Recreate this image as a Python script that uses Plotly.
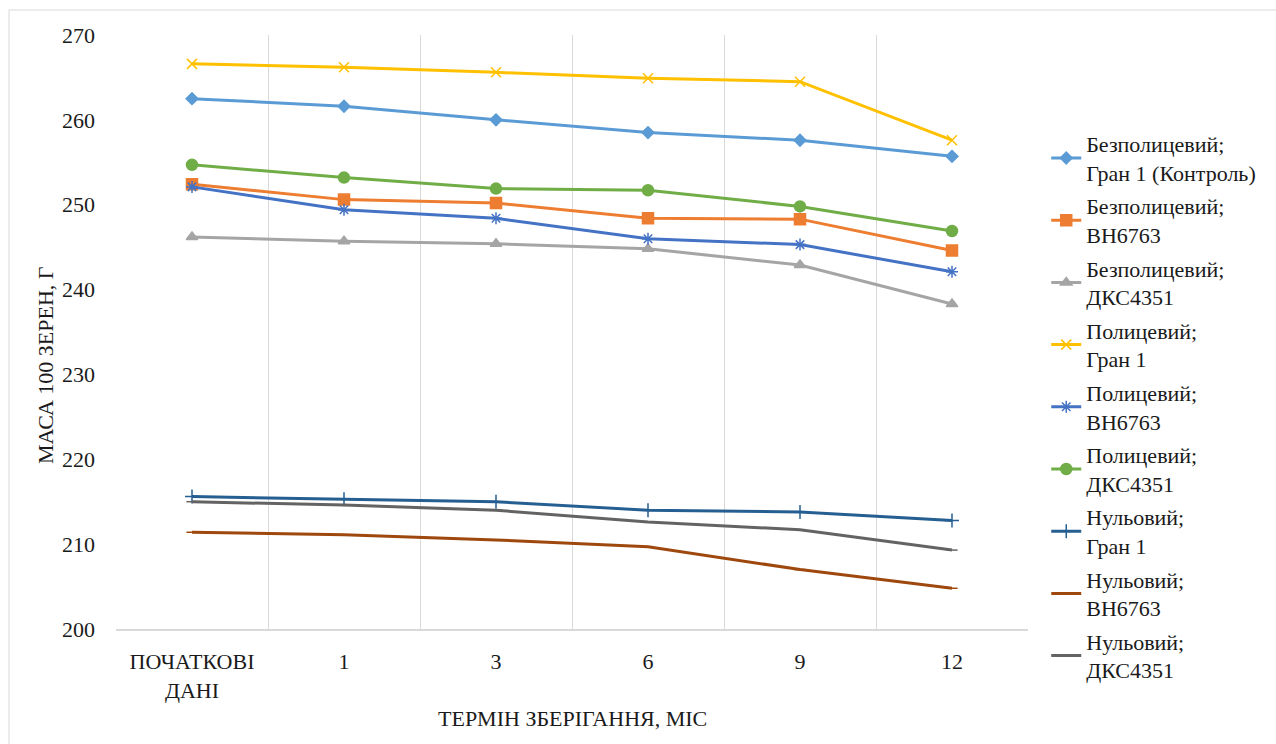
import plotly.graph_objects as go

categories = ["ПОЧАТКОВІ<br>ДАНІ", "1", "3", "6", "9", "12"]

names = [
    "Безполицевий;<br>Гран 1 (Контроль)",
    "Безполицевий;<br>ВН6763",
    "Безполицевий;<br>ДКС4351",
    "Полицевий;<br>Гран 1",
    "Полицевий;<br>ВН6763",
    "Полицевий;<br>ДКС4351",
    "Нульовий;<br>Гран 1",
    "Нульовий;<br>ВН6763",
    "Нульовий;<br>ДКС4351",
]

bez_gran = [262.5, 261.6, 260.0, 258.5, 257.6, 255.7]
bez_vn = [252.4, 250.6, 250.2, 248.4, 248.3, 244.6]
bez_dks = [246.2, 245.7, 245.4, 244.8, 242.9, 238.3]
pol_gran = [266.6, 266.2, 265.6, 264.9, 264.5, 257.6]
pol_vn = [252.1, 249.4, 248.4, 246.0, 245.3, 242.1]
pol_dks = [254.7, 253.2, 251.9, 251.7, 249.8, 246.9]
nul_gran = [215.6, 215.3, 215.0, 214.0, 213.8, 212.8]
nul_vn = [211.4, 211.1, 210.5, 209.7, 207.0, 204.8]
nul_dks = [215.0, 214.6, 214.0, 212.6, 211.7, 209.3]

series = [bez_gran, bez_vn, bez_dks, pol_gran, pol_vn, pol_dks, nul_gran, nul_vn, nul_dks]
colors = ["#5B9BD5", "#ED7D31", "#A5A5A5", "#FFC000", "#4472C4", "#70AD47",
          "#255E91", "#9E480E", "#636363"]
symbols = ["diamond", "square", "triangle-up", "x-thin-open", "asterisk-open", "circle",
           "cross-thin-open", "line-ew-open", "line-ew-open"]
sizes = [9, 11, 10, 10, 10, 11, 10, 8, 8]

FONT = "Liberation Serif"
FS = 22
TXT = "#1a1a1a"

fig = go.Figure()
for i, (nm, ys) in enumerate(zip(names, series)):
    fig.add_trace(go.Scatter(
        x=categories, y=ys, name=nm, mode="lines+markers",
        legendgroup=f"g{i}",
        line=dict(color=colors[i], width=3),
        marker=dict(symbol=symbols[i], size=sizes[i], color=colors[i],
                    line=dict(color=colors[i], width=1.5)),
    ))

fig.update_layout(
    width=1276, height=744,
    margin=dict(l=116, r=248, t=35, b=115),
    paper_bgcolor="white", plot_bgcolor="white",
    font=dict(family=FONT, size=FS, color=TXT),
    showlegend=True,
    legend=dict(x=1.02, y=0.852, xanchor="left", yanchor="top",
                font=dict(family=FONT, size=FS, color=TXT),
                traceorder="grouped", tracegroupgap=2, itemwidth=30),
    xaxis=dict(
        type="category", tickson="boundaries", showgrid=True,
        gridcolor="#D9D9D9", gridwidth=1,
        showline=True, linecolor="#D9D9D9", linewidth=1.5,
        ticks="", tickfont=dict(family=FONT, size=FS, color=TXT),
        ticklabelstandoff=12, automargin=False,
        range=[-0.5, 5.5],
    ),
    yaxis=dict(
        range=[200, 270], dtick=10, showgrid=False, zeroline=False,
        showline=False, ticks="", automargin=False,
        tickfont=dict(family=FONT, size=FS, color=TXT),
        ticklabelstandoff=20,
    ),
    annotations=[
        dict(text="ТЕРМІН ЗБЕРІГАННЯ, МІС", xref="paper", yref="paper",
             x=(572 - 116) / 912, y=(629 - 718) / 594, xanchor="center", yanchor="middle",
             showarrow=False, font=dict(family=FONT, size=FS, color=TXT)),
        dict(text="МАСА 100 ЗЕРЕН, Г", xref="paper", yref="paper",
             x=(45 - 116) / 912, y=(629 - 365) / 594, xanchor="center", yanchor="middle",
             textangle=-90, showarrow=False, font=dict(family=FONT, size=FS, color=TXT)),
    ],
)

# outer chart frame (top and left edges visible)
fig.add_shape(type="line", xref="paper", yref="paper",
              x0=(9 - 116) / 912, x1=(1276 - 116) / 912,
              y0=(629 - 10) / 594, y1=(629 - 10) / 594,
              line=dict(color="#D9D9D9", width=1))
fig.add_shape(type="line", xref="paper", yref="paper",
              x0=(9 - 116) / 912, x1=(9 - 116) / 912,
              y0=(629 - 10) / 594, y1=(629 - 744) / 594,
              line=dict(color="#D9D9D9", width=1))

fig.write_html("out.html")
